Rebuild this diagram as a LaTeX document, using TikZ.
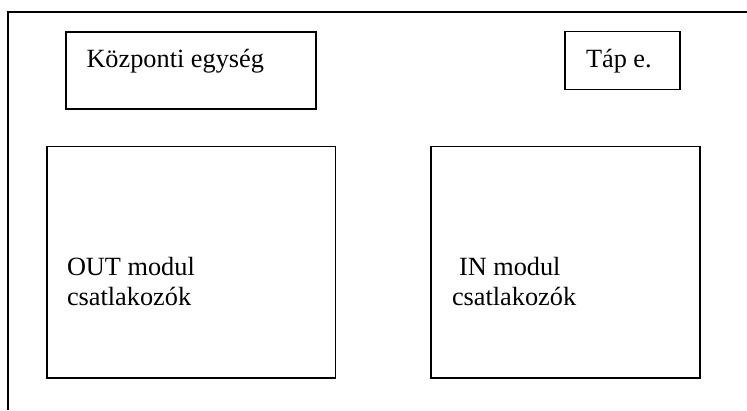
\documentclass[tikz,border=0pt]{standalone}
\usepackage{fontspec}
\setmainfont{Liberation Serif}
\begin{document}
\begin{tikzpicture}[x=1pt,y=-1pt,
  boxline/.style={draw=black,line width=1.6pt},
  lbl/.style={anchor=base west,inner sep=0pt,outer sep=0pt,font=\fontsize{26.3}{30}\selectfont,align=left}]
\useasboundingbox (0,0) rectangle (747,410);
% outer frame (only top and left edges visible)
\coordinate (tr) at (747,12);
\coordinate (tl) at (8,12);
\coordinate (bl) at (8,410);
\draw[line width=2pt] (tr) -- (tl) -- (bl);
% boxes
\node[boxline,inner sep=0pt,minimum width=250pt,minimum height=77pt,anchor=north west] (cpu) at (65,31) {};
\node[boxline,inner sep=0pt,minimum width=115pt,minimum height=58pt,anchor=north west] (tap) at (564,30.5) {};
\node[boxline,inner sep=0pt,minimum width=288.5pt,minimum height=231.5pt,anchor=north west] (out) at (46,145.5) {};
\node[boxline,inner sep=0pt,minimum width=269pt,minimum height=231.5pt,anchor=north west] (in) at (430,145.5) {};
% labels
\node[lbl] (cpul) at (86.5,67.5) {Központi egység};
\node[lbl] (tapl) at (586,67.5) {Táp e.};
\node[lbl] (outl1) at (67,275.5) {OUT modul};
\node[lbl] (outl2) at (67,305) {csatlakozók};
\node[lbl] (inl1) at (459,275.5) {IN modul};
\node[lbl] (inl2) at (452,305) {csatlakozók};
\end{tikzpicture}
\end{document}
